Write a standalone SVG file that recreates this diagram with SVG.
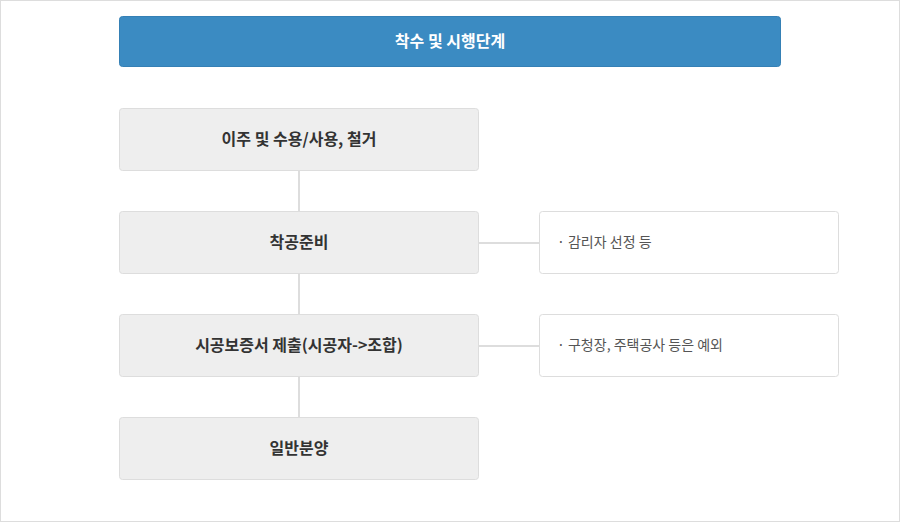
<svg xmlns="http://www.w3.org/2000/svg" width="900" height="522" viewBox="0 0 900 522">
<style>
.frame{fill:#ffffff;stroke:#dddddd;stroke-width:1}
.head{fill:#3b8bc2;stroke:#3580b5;stroke-width:1}
.step{fill:#eeeeee;stroke:#dddddd;stroke-width:1}
.note{fill:#ffffff;stroke:#dddddd;stroke-width:1}
.conn{stroke:#dddddd;stroke-width:2;fill:none}
text{font-family:"Noto Sans CJK KR","Noto Sans",sans-serif}
.ht{fill:#ffffff;font-size:16px;font-weight:bold;text-anchor:middle}
.st{fill:#333333;font-size:16px;font-weight:bold;text-anchor:middle}
.nt{fill:#555555;font-size:14px}
</style>
<rect class="frame" x="0.5" y="0.5" width="899" height="521"/>
<g id="connectors">
<line class="conn" x1="299" y1="171" x2="299" y2="211"/>
<line class="conn" x1="299" y1="274" x2="299" y2="314"/>
<line class="conn" x1="299" y1="377" x2="299" y2="417"/>
<line class="conn" x1="479" y1="243" x2="539" y2="243"/>
<line class="conn" x1="479" y1="346" x2="539" y2="346"/>
</g>
<g id="header">
<rect class="head" x="119.5" y="16.5" width="661" height="50" rx="3"/>
<text class="ht" x="450" y="47">착수 및 시행단계</text>
</g>
<g id="step1">
<rect class="step" x="119.5" y="108.5" width="359" height="62" rx="3"/>
<text class="st" x="299" y="145">이주 및 수용/사용, 철거</text>
</g>
<g id="step2">
<rect class="step" x="119.5" y="211.5" width="359" height="62" rx="3"/>
<text class="st" x="299" y="248">착공준비</text>
</g>
<g id="step3">
<rect class="step" x="119.5" y="314.5" width="359" height="62" rx="3"/>
<text class="st" x="299" y="351">시공보증서 제출(시공자-&gt;조합)</text>
</g>
<g id="step4">
<rect class="step" x="119.5" y="417.5" width="359" height="62" rx="3"/>
<text class="st" x="299" y="454">일반분양</text>
</g>
<g id="note1">
<rect class="note" x="539.5" y="211.5" width="299" height="62" rx="3"/>
<text class="nt" x="557" y="247">· 감리자 선정 등</text>
</g>
<g id="note2">
<rect class="note" x="539.5" y="314.5" width="299" height="62" rx="3"/>
<text class="nt" x="557" y="350">· 구청장, 주택공사 등은 예외</text>
</g>
</svg>
